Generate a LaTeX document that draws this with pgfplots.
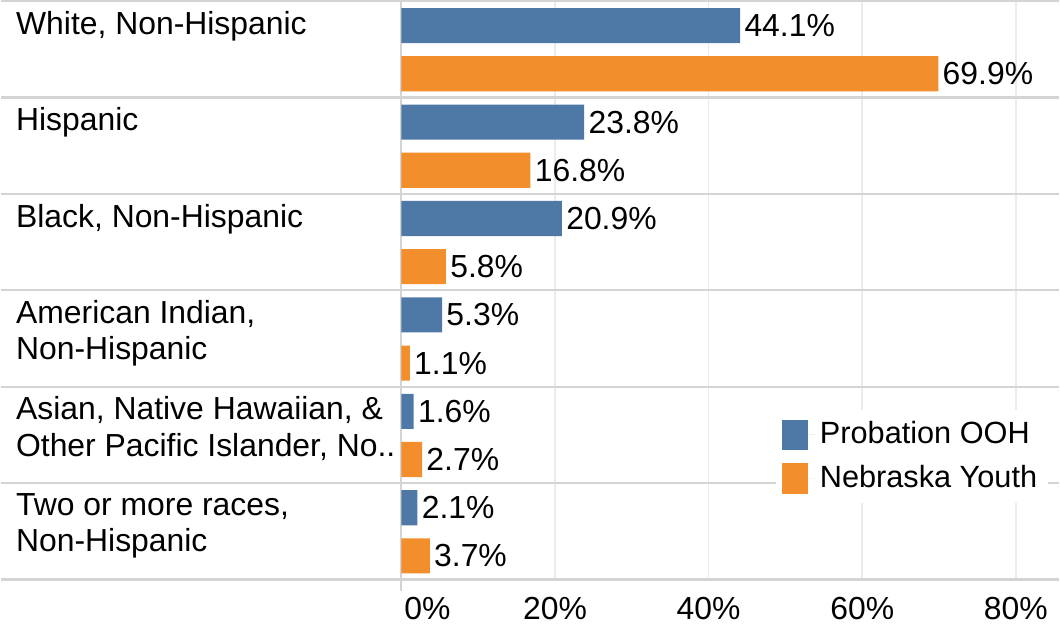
\documentclass[border=0pt]{standalone}
\usepackage{pgfplots}
\pgfplotsset{compat=1.18}
\usepackage{fontspec}
\setmainfont{Liberation Sans}
\definecolor{cblue}{HTML}{4E79A7}
\definecolor{corange}{HTML}{F28E2B}
\definecolor{gridg}{HTML}{EBEBEB}
\definecolor{sepg}{HTML}{D4D4D4}
\begin{document}
\fontsize{15.9}{19}\selectfont
\begin{tikzpicture}
\begin{axis}[
  scale only axis,
  width=527.5pt, height=288.5pt,
  xmin=-52.1, xmax=85.6,
  ymin=0, ymax=6,
  y dir=reverse,
  clip=false,
  axis line style={draw=none},
  major tick length=0pt,
  xtick={0,20,40,60,80},
  xticklabels={\makebox[0pt][l]{\hspace*{1.5pt}0\%},20\%,40\%,60\%,80\%},
  xticklabel style={font=\fontsize{15.9}{19}\selectfont, yshift=-3.5pt},
  xmajorgrids,
  major grid style={color=gridg, line width=0.8pt},
  ytick=\empty,
  xbar, bar width=17.5pt, bar shift=0pt,
  nodes near coords={\pgfmathprintnumber[fixed,precision=1,fixed zerofill,assume math mode=true]{\pgfplotspointmeta}\%},
  nodes near coords style={anchor=west, inner sep=2pt, font=\fontsize{15.9}{19}\selectfont, color=black},
  point meta=x,
  legend style={at={(axis cs:48.7,4.24)}, anchor=north west, draw=none, fill=white,
    font=\fontsize{15.3}{19}\selectfont, row sep=3.3pt, inner sep=3pt,
    nodes={inner sep=2.5pt}},
  legend cell align=left,
  legend image code/.code={\fill[#1] (0pt,-7.5pt) rectangle (13pt,7.5pt); \path (0pt,0pt) -- (16.5pt,0pt);},
]
\pgfplotsinvokeforeach{0,1,2,3,4,5,6}{
  \draw[sepg, line width=1.1pt] (axis cs:-52.1,#1) -- (axis cs:85.6,#1);
}
\draw[sepg, line width=1.1pt] (axis cs:0,0) -- (axis cs:0,6.12);
\path (axis cs:0,6) -- (axis cs:0,6.49);
\addplot[fill=cblue, draw=none] coordinates {
  (44.1,0.255) (23.8,1.255) (20.9,2.255) (5.3,3.255) (1.6,4.255) (2.1,5.255)};
\addlegendentry{Probation OOH}
\addplot[fill=corange, draw=none] coordinates {
  (69.9,0.754) (16.8,1.754) (5.8,2.754) (1.1,3.754) (2.7,4.754) (3.7,5.754)};
\addlegendentry{Nebraska Youth}
\begin{scope}[every node/.style={anchor=north west, inner sep=0pt, align=left, font=\fontsize{15.9}{18}\selectfont}]
\node at (axis cs:-50.2,0.1) {White, Non-Hispanic};
\node at (axis cs:-50.2,1.1) {Hispanic};
\node at (axis cs:-50.2,2.1) {Black, Non-Hispanic};
\node at (axis cs:-50.2,3.1) {American Indian,\\Non-Hispanic};
\node at (axis cs:-50.2,4.1) {Asian, Native Hawaiian, \&\\Other Pacific Islander, No..};
\node at (axis cs:-50.2,5.1) {Two or more races,\\Non-Hispanic};
\end{scope}
\end{axis}
\end{tikzpicture}
\end{document}
